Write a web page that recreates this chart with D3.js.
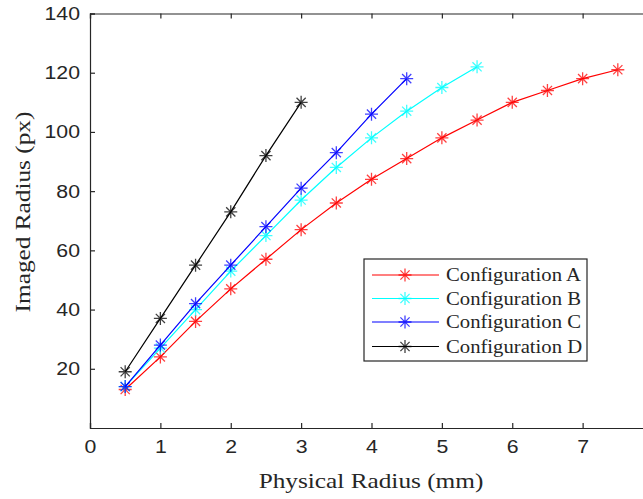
<!DOCTYPE html>
<html lang="en">
<head>
<meta charset="UTF-8">
<title>Imaged vs Physical Radius</title>
<script src="https://d3js.org/d3.v7.min.js"></script>
<style type="text/css">
    body { margin: 0; background: #fff; }
    svg { display: block; }
    .tick text { font-family: "Liberation Sans", Arial, sans-serif; fill: #262626; }
</style>
</head>
<body>
<div id="svgDiv"></div>
<script type="text/javascript">

    // data
    var xA = [0.5, 1, 1.5, 2, 2.5, 3, 3.5, 4, 4.5, 5, 5.5, 6, 6.5, 7, 7.5];
    var yA = [13, 24, 36, 47, 57, 67, 76, 84, 91, 98, 104, 110, 114, 118, 121];
    var xB = [0.5, 1, 1.5, 2, 2.5, 3, 3.5, 4, 4.5, 5, 5.5];
    var yB = [14, 27, 40, 53, 65, 77, 88, 98, 107, 115, 122];
    var xC = [0.5, 1, 1.5, 2, 2.5, 3, 3.5, 4, 4.5];
    var yC = [14, 28, 42, 55, 68, 81, 93, 106, 118];
    var xD = [0.5, 1, 1.5, 2, 2.5, 3];
    var yD = [19, 37, 55, 73, 92, 110];

    var seriesNames = ["Configuration A", "Configuration B", "Configuration C", "Configuration D"];
    var seriesColors = ["#ff0000", "#00ffff", "#0000ff", "#000000"];
    var xTicks = [0, 1, 2, 3, 4, 5, 6, 7];
    var yTicks = [20, 40, 60, 80, 100, 120, 140];

    var svgWidth = 643, svgHeight = 499;
    var stretch = 1.15; // the picture is a bit wider than tall

    var svg = d3.select("#svgDiv").append("svg")
        .attr("width", svgWidth)
        .attr("height", svgHeight);

    var xScale = d3.scaleLinear().domain([0, 8]).range([90, 653]);
    var yScale = d3.scaleLinear().domain([0, 140]).range([428, 13.5]);

    var series = [
        {x: xA, y: yA}, {x: xB, y: yB}, {x: xC, y: yC}, {x: xD, y: yD}
    ].map(function(s, i){
        return {
            name: seriesNames[i],
            color: seriesColors[i],
            points: s.x.map(function(v, j){ return [v, s.y[j]]; })
        };
    });

    // asterisk marker = plus + cross
    function asterisk(r){
        var d = r * Math.SQRT1_2;
        return "M0," + (-r) + "V" + r +
               "M" + (-r) + ",0H" + r +
               "M" + (-d) + "," + (-d) + "L" + d + "," + d +
               "M" + (-d) + "," + d + "L" + d + "," + (-d);
    }

    // axes (box style, ticks inside)
    var axisColor = "#262626";

    var xAxis = svg.append("g")
        .attr("transform", "translate(0,428)")
        .call(d3.axisBottom(xScale).tickValues(xTicks).tickSize(-5).tickPadding(12));
    var yAxis = svg.append("g")
        .attr("transform", "translate(90,0)")
        .call(d3.axisLeft(yScale).tickValues(yTicks).tickSize(-5).tickPadding(10));
    var topAxis = svg.append("g")
        .attr("transform", "translate(0,13.5)")
        .call(d3.axisTop(xScale).tickValues(xTicks).tickSize(-5).tickFormat(""));

    [xAxis, yAxis, topAxis].forEach(function(g){
        g.select(".domain").attr("stroke", axisColor).attr("stroke-width", 1.2);
        g.selectAll(".tick line").attr("stroke", axisColor).attr("stroke-width", 1.2);
    });

    xAxis.selectAll(".tick text")
        .attr("font-size", 18.5)
        .attr("transform", "scale(" + stretch + ",1)");
    yAxis.selectAll(".tick text")
        .attr("font-size", 18.5)
        .attr("transform", "scale(" + stretch + ",1)")
        .attr("x", -10 / stretch);

    // lines and markers
    var line = d3.line()
        .x(function(d){ return xScale(d[0]); })
        .y(function(d){ return yScale(d[1]); });

    var plot = svg.append("g");
    series.forEach(function(s){
        plot.append("path")
            .datum(s.points)
            .attr("fill", "none")
            .attr("stroke", s.color)
            .attr("stroke-width", 1.2)
            .attr("d", line);
        plot.selectAll(null)
            .data(s.points)
            .enter().append("path")
            .attr("transform", function(d){ return "translate(" + xScale(d[0]) + "," + yScale(d[1]) + ")"; })
            .attr("d", asterisk(6.5))
            .attr("fill", "none")
            .attr("stroke", s.color)
            .attr("stroke-opacity", 0.75)
            .attr("stroke-width", 1.3);
    });

    // axis labels
    svg.append("text")
        .attr("transform", "translate(371,488) scale(" + stretch + ",1)")
        .attr("text-anchor", "middle")
        .attr("font-family", "'Liberation Serif', 'Times New Roman', serif")
        .attr("font-size", 22)
        .attr("fill", "#262626")
        .text("Physical Radius (mm)");

    svg.append("text")
        .attr("transform", "translate(30,212) rotate(-90) scale(" + stretch + ",1)")
        .attr("text-anchor", "middle")
        .attr("font-family", "'Liberation Serif', 'Times New Roman', serif")
        .attr("font-size", 22)
        .attr("fill", "#262626")
        .text("Imaged Radius (px)");

    // legend
    var legend = svg.append("g");
    legend.append("rect")
        .attr("x", 364).attr("y", 259)
        .attr("width", 223).attr("height", 102)
        .attr("fill", "#fff")
        .attr("stroke", axisColor)
        .attr("stroke-width", 1.2);

    var legendRows = [275, 298.5, 322, 346.5];
    series.forEach(function(s, i){
        var row = legend.append("g").attr("transform", "translate(0," + legendRows[i] + ")");
        row.append("line")
            .attr("x1", 372).attr("x2", 439)
            .attr("stroke", s.color).attr("stroke-width", 1.2);
        row.append("path")
            .attr("transform", "translate(405,0)")
            .attr("d", asterisk(6.5))
            .attr("fill", "none")
            .attr("stroke", s.color)
            .attr("stroke-opacity", 0.75)
            .attr("stroke-width", 1.3);
        row.append("text")
            .attr("transform", "translate(446,0) scale(" + stretch + ",1)")
            .attr("dy", "0.35em")
            .attr("font-family", "'Liberation Serif', 'Times New Roman', serif")
            .attr("font-size", 18)
            .attr("fill", "#262626")
            .text(s.name);
    });

</script>
</body>
</html>
